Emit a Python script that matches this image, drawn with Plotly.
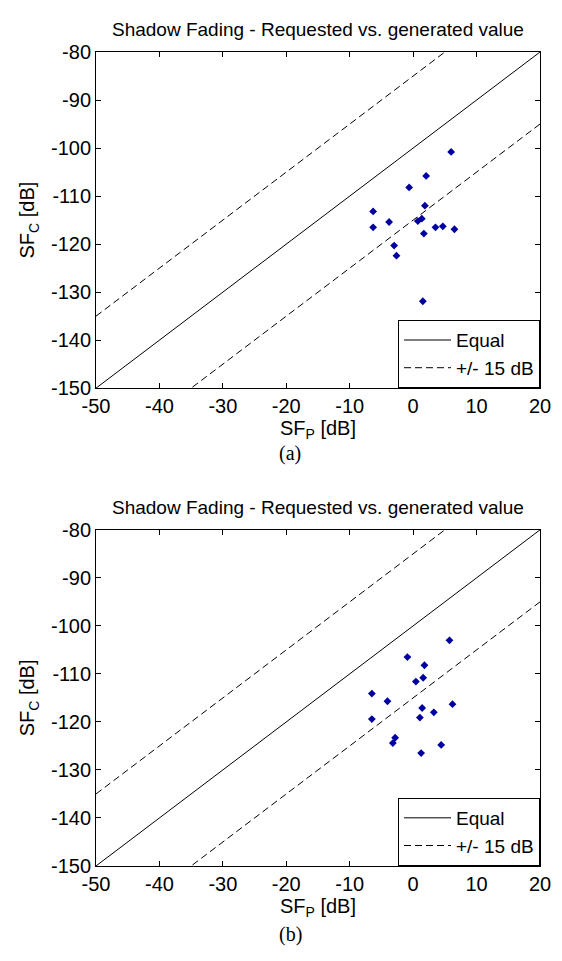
import plotly.graph_objects as go

# ---- data ----
sfp_a = [5.99, 2.05, -0.63, 1.85, -6.31, -3.79, 0.74, 1.37, -6.31, 3.52, 4.68, 6.51, 1.69, -3.00, -2.63, 1.53]
sfc_a = [-100.8, -105.8, -108.2, -112.0, -113.2, -115.4, -115.2, -114.7, -116.5, -116.5, -116.3, -116.9, -117.8, -120.3, -122.4, -131.9]

sfp_b = [5.73, -0.90, 1.78, 1.58, 0.43, -6.51, -4.05, 6.20, 1.42, 3.26, 1.06, -6.51, -2.84, -3.20, 4.42, 1.26]
sfc_b = [-103.0, -106.5, -108.2, -110.8, -111.6, -114.1, -115.7, -116.3, -117.1, -118.0, -119.1, -119.4, -123.3, -124.4, -124.8, -126.5]

x_range = [-50, 20]
y_range = [-150, -80]
x_ticks = [-50, -40, -30, -20, -10, 0, 10, 20]
y_ticks = [-150, -140, -130, -120, -110, -100, -90, -80]
x_ticklabels = ["-50", "-40", "-30", "-20", "-10", "0", "10", "20"]
y_ticklabels = ["-150", "-140", "-130", "-120", "-110", "-100", "-90", "-80"]
equal_offset = -100
band = 15

title_text = "Shadow Fading - Requested vs. generated value"
captions = ["(a)", "(b)"]

# ---- layout geometry ----
W, H = 562, 961
L, R = 96, 540
panels = [(42, 386), (531, 875)]  # (top px, bottom px)
caption_gap = [67, 70]
title_gap = [23, 23]

FONT = "Liberation Sans, Arial, sans-serif"
fig = go.Figure()

for i, (sfp, sfc) in enumerate([(sfp_a, sfc_a), (sfp_b, sfc_b)]):
    xa = "x" if i == 0 else "x2"
    ya = "y" if i == 0 else "y2"
    lg = "legend" if i == 0 else "legend2"
    eq_y = [v + equal_offset for v in x_range]
    fig.add_trace(go.Scatter(x=x_range, y=eq_y, mode="lines", name="Equal",
                             line=dict(color="black", width=1), xaxis=xa, yaxis=ya, legend=lg))
    up_y = [v + equal_offset + band for v in x_range]
    lo_y = [v + equal_offset - band for v in x_range]
    fig.add_trace(go.Scatter(x=x_range, y=up_y, mode="lines", name="+/- 15 dB",
                             line=dict(color="black", width=1, dash="7px,4px"),
                             xaxis=xa, yaxis=ya, legend=lg))
    fig.add_trace(go.Scatter(x=x_range, y=lo_y, mode="lines", name="+/- 15 dB",
                             line=dict(color="black", width=1, dash="7px,4px"),
                             xaxis=xa, yaxis=ya, legend=lg, showlegend=False))
    fig.add_trace(go.Scatter(x=sfp, y=sfc, mode="markers", name="data",
                             marker=dict(symbol="diamond", size=6, color="#0000A0"),
                             xaxis=xa, yaxis=ya, legend=lg, showlegend=False))

axis_common = dict(showgrid=False, zeroline=False, showline=True, linecolor="black",
                   linewidth=1, mirror="ticks", ticks="inside", ticklen=5, tickcolor="black",
                   tickfont=dict(family=FONT, size=20, color="black"))

def ydom(top, bot):
    return [1 - bot / H, 1 - top / H]

layout = dict(
    width=W, height=H,
    margin=dict(l=L, r=W - R, t=0, b=0),
    paper_bgcolor="white", plot_bgcolor="white",
    font=dict(family=FONT, size=19, color="black"),
    showlegend=True,
)
for i, (top, bot) in enumerate(panels):
    sx = "" if i == 0 else "2"
    layout["xaxis" + sx] = dict(axis_common, range=x_range, tickvals=x_ticks,
                                ticktext=x_ticklabels,
                                domain=[0, 1], anchor="y" + sx,
                                title=dict(text="SF<sub>P</sub> [dB]", standoff=2,
                                           font=dict(family=FONT, size=20)))
    layout["yaxis" + sx] = dict(axis_common, range=y_range, tickvals=y_ticks,
                                ticktext=y_ticklabels,
                                domain=ydom(top, bot), anchor="x" + sx,
                                title=dict(text="SF<sub>C</sub> [dB]", standoff=10,
                                           font=dict(family=FONT, size=20)))
    leg = dict(x=1, xanchor="right", y=1 - bot / H, yanchor="bottom",
               bgcolor="white", bordercolor="black", borderwidth=1,
               font=dict(family=FONT, size=19, color="black"),
               tracegroupgap=0, itemwidth=47)
    layout["legend" if i == 0 else "legend2"] = leg

fig.update_layout(**layout)

for i, (top, bot) in enumerate(panels):
    fig.add_annotation(text=title_text, xref="paper", yref="paper",
                       x=0.5, y=1 - (top - title_gap[i]) / H, xanchor="center", yanchor="middle",
                       showarrow=False, font=dict(family=FONT, size=19, color="black"))
    fig.add_annotation(text=captions[i], xref="paper", yref="paper",
                       x=(290 - L) / (R - L), y=1 - (bot + caption_gap[i]) / H, xanchor="center",
                       yanchor="middle", showarrow=False,
                       font=dict(family="Liberation Serif, Times New Roman, serif", size=20,
                                 color="black"))

fig.write_html("out.html")
